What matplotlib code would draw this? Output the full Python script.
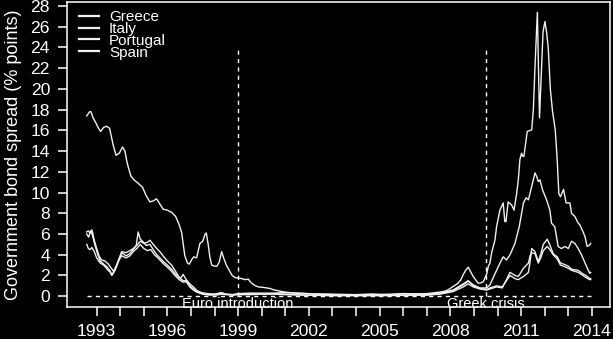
import matplotlib
matplotlib.use("Agg")
import matplotlib.pyplot as plt
from matplotlib.ticker import FixedLocator, FuncFormatter

plt.rcParams['font.family'] = ['Liberation Sans', 'DejaVu Sans']

# Ten-year government bond spreads versus Germany, % points
greece_t = [1992.58, 1992.70, 1992.76, 1992.85, 1992.95, 1993.08, 1993.17, 1993.30, 1993.42, 1993.55,
            1993.70, 1993.82, 1993.96, 1994.10, 1994.20, 1994.30, 1994.45, 1994.60, 1994.76, 1994.95,
            1995.10, 1995.26, 1995.40, 1995.54, 1995.68, 1995.82, 1996.00, 1996.18, 1996.35, 1996.50,
            1996.60, 1996.74, 1996.85, 1996.93, 1997.05, 1997.12, 1997.24, 1997.38, 1997.50, 1997.60,
            1997.65, 1997.73, 1997.80, 1997.88, 1998.00, 1998.10, 1998.20, 1998.30, 1998.40, 1998.50,
            1998.62, 1998.75, 1998.87, 1999.00, 1999.15, 1999.29, 1999.43, 1999.55, 1999.70, 1999.85,
            2000.07, 2000.35, 2000.50, 2000.92, 2001.30, 2001.62, 2002.05, 2002.50, 2003.00, 2003.50,
            2004.00, 2004.50, 2004.70, 2005.00, 2005.50, 2006.00, 2006.50, 2007.00, 2007.56, 2007.80,
            2008.00, 2008.12, 2008.30, 2008.45, 2008.55, 2008.65, 2008.76, 2008.85, 2008.97, 2009.10,
            2009.18, 2009.30, 2009.40, 2009.55, 2009.61, 2009.68, 2009.75, 2009.82, 2009.89, 2009.96,
            2010.10, 2010.17, 2010.24, 2010.31, 2010.36, 2010.45, 2010.60, 2010.70, 2010.81, 2010.88,
            2010.95, 2011.02, 2011.07, 2011.12, 2011.26, 2011.45, 2011.52, 2011.59, 2011.69, 2011.74,
            2011.78, 2011.85, 2011.93, 2012.01, 2012.08, 2012.15, 2012.24, 2012.33, 2012.45, 2012.53,
            2012.60, 2012.67, 2012.80, 2012.91, 2013.07, 2013.14, 2013.28, 2013.42, 2013.49, 2013.63,
            2013.71, 2013.80, 2013.91, 2013.95]
greece_v = [17.4, 17.8, 17.8, 17.2, 16.8, 16.2, 15.9, 16.3, 16.4, 16.2,
            14.6, 13.6, 13.8, 14.4, 14.0, 12.8, 11.6, 11.2, 10.9, 10.5,
            9.7, 9.1, 9.2, 9.4, 8.9, 8.4, 8.3, 8.1, 7.7, 6.9,
            6.2, 3.9, 3.2, 3.1, 3.6, 3.8, 3.7, 5.1, 5.3, 6.0,
            6.1, 5.0, 3.8, 3.0, 2.9, 2.9, 3.3, 4.3, 3.6, 3.0,
            2.5, 2.0, 1.8, 1.75, 1.7, 1.6, 1.65, 1.3, 1.05, 0.9,
            0.85, 0.75, 0.62, 0.42, 0.32, 0.28, 0.22, 0.18, 0.15, 0.12,
            0.15, 0.2, 0.22, 0.18, 0.15, 0.25, 0.22, 0.25, 0.4, 0.5,
            0.75, 0.95, 1.2, 1.6, 2.1, 2.5, 2.8, 2.4, 1.9, 1.5,
            1.25, 1.3, 1.4, 2.2, 2.9, 3.2, 4.2, 4.8, 5.4, 6.7,
            8.3, 8.65, 9.0, 7.2, 7.2, 9.1, 8.8, 8.3, 9.9, 11.2,
            13.2, 13.8, 13.5, 13.5, 15.9, 16.05, 18.0, 22.2, 27.4, 22.0,
            17.2, 21.0, 25.5, 26.5, 25.5, 24.0, 20.0, 17.9, 16.0, 13.2,
            9.9, 9.6, 10.3, 9.0, 9.0, 8.0, 7.7, 7.05, 6.9, 6.2,
            5.75, 4.8, 4.95, 5.1]

italy_t = [1992.58, 1992.66, 1992.74, 1992.82, 1992.92, 1993.05, 1993.15, 1993.30, 1993.45, 1993.58,
           1993.65, 1993.78, 1993.95, 1994.06, 1994.25, 1994.40, 1994.55, 1994.68, 1994.76, 1994.85,
           1994.95, 1995.10, 1995.26, 1995.40, 1995.55, 1995.68, 1995.85, 1996.00, 1996.18, 1996.32,
           1996.50, 1996.67, 1996.80, 1996.95, 1997.10, 1997.24, 1997.50, 1997.80, 1998.10, 1998.30,
           1998.50, 1998.80, 1999.00, 1999.50, 2000.00, 2000.50, 2001.00, 2001.50, 2002.00, 2003.00,
           2004.00, 2005.00, 2006.00, 2007.00, 2007.56, 2008.12, 2008.55, 2008.76, 2008.97, 2009.25,
           2009.54, 2009.68, 2009.96, 2010.20, 2010.38, 2010.53, 2010.74, 2010.88, 2011.10, 2011.31,
           2011.38, 2011.45, 2011.59, 2011.73, 2011.85, 2011.94, 2012.11, 2012.22, 2012.36, 2012.53,
           2012.67, 2012.80, 2013.00, 2013.14, 2013.28, 2013.42, 2013.56, 2013.75, 2013.91, 2013.95]
italy_v = [6.0, 5.7, 6.3, 5.9, 5.0, 4.0, 3.4, 3.1, 2.8, 2.4,
           2.05, 2.6, 3.6, 4.2, 3.9, 4.1, 4.5, 4.9, 6.2, 5.5,
           5.3, 4.9, 5.0, 4.5, 4.0, 3.7, 3.3, 3.0, 2.6, 2.2,
           1.8, 1.5, 1.5, 1.0, 0.7, 0.45, 0.2, 0.15, 0.2, 0.3,
           0.2, 0.15, 0.25, 0.3, 0.3, 0.3, 0.35, 0.3, 0.25, 0.2,
           0.15, 0.15, 0.25, 0.2, 0.3, 0.6, 1.2, 1.5, 1.0, 0.75,
           0.65, 0.8, 1.0, 0.9, 1.5, 2.0, 1.7, 1.6, 1.9, 2.3,
           3.3, 4.6, 4.3, 3.3, 4.2, 5.0, 5.5, 4.95, 4.1, 3.8,
           3.2, 3.1, 2.9, 2.6, 2.55, 2.5, 2.25, 2.0, 1.7, 1.7]

portugal_t = [1992.58, 1992.65, 1992.72, 1992.80, 1992.90, 1993.00, 1993.10, 1993.20, 1993.35, 1993.50,
              1993.62, 1993.72, 1993.85, 1994.00, 1994.06, 1994.25, 1994.41, 1994.55, 1994.70, 1994.85,
              1995.00, 1995.15, 1995.26, 1995.40, 1995.55, 1995.68, 1995.85, 1996.00, 1996.18, 1996.32,
              1996.45, 1996.55, 1996.67, 1996.80, 1996.95, 1997.10, 1997.25, 1997.45, 1997.70, 1998.00,
              1998.20, 1998.30, 1998.45, 1998.70, 1999.00, 1999.50, 2000.00, 2000.50, 2001.00, 2001.50,
              2002.00, 2003.00, 2004.00, 2005.00, 2006.00, 2007.00, 2007.56, 2008.12, 2008.55, 2008.76,
              2008.97, 2009.25, 2009.54, 2009.68, 2009.96, 2010.17, 2010.24, 2010.38, 2010.53, 2010.74,
              2010.92, 2011.10, 2011.21, 2011.31, 2011.45, 2011.59, 2011.66, 2011.73, 2011.80, 2011.91,
              2012.08, 2012.22, 2012.29, 2012.43, 2012.57, 2012.71, 2012.86, 2013.00, 2013.14, 2013.28,
              2013.42, 2013.56, 2013.77, 2013.91, 2013.95]
portugal_v = [6.2, 6.3, 6.1, 6.4, 5.4, 4.6, 3.9, 3.5, 3.4, 3.1,
              2.7, 2.4, 3.0, 3.9, 4.3, 4.2, 4.4, 4.6, 4.9, 5.3,
              5.1, 5.2, 5.4, 5.0, 4.6, 4.3, 3.8, 3.4, 3.0, 2.5,
              2.0, 1.7, 2.1, 1.6, 1.2, 0.9, 0.55, 0.35, 0.25, 0.2,
              0.3, 0.35, 0.2, 0.15, 0.2, 0.25, 0.2, 0.25, 0.2, 0.15,
              0.1, 0.08, 0.1, 0.08, 0.12, 0.15, 0.25, 0.55, 1.1, 1.45,
              1.1, 0.8, 0.8, 1.1, 2.5, 3.5, 3.8, 3.5, 4.0, 5.1,
              6.7, 9.0, 9.5, 9.3, 10.6, 11.9, 11.55, 11.06, 11.23, 10.26,
              9.3, 8.3, 7.05, 6.7, 4.8, 4.6, 4.8, 4.6, 5.3, 5.1,
              4.6, 4.0, 2.9, 2.2, 2.3]

spain_t = [1992.58, 1992.65, 1992.72, 1992.80, 1992.90, 1993.00, 1993.15, 1993.30, 1993.45, 1993.58,
           1993.64, 1993.78, 1993.95, 1994.06, 1994.25, 1994.41, 1994.55, 1994.70, 1994.85, 1995.00,
           1995.15, 1995.30, 1995.45, 1995.60, 1995.68, 1995.85, 1996.00, 1996.18, 1996.32, 1996.50,
           1996.67, 1996.80, 1996.95, 1997.10, 1997.24, 1997.50, 1997.80, 1998.10, 1998.30, 1998.50,
           1998.80, 1999.00, 1999.50, 2000.00, 2000.50, 2001.00, 2002.00, 2003.00, 2004.00, 2005.00,
           2006.00, 2007.00, 2007.56, 2008.12, 2008.55, 2008.76, 2008.97, 2009.25, 2009.54, 2009.68,
           2009.96, 2010.20, 2010.38, 2010.53, 2010.74, 2010.88, 2011.10, 2011.31, 2011.38, 2011.45,
           2011.59, 2011.73, 2011.85, 2011.94, 2012.11, 2012.22, 2012.36, 2012.53, 2012.67, 2012.80,
           2013.00, 2013.14, 2013.28, 2013.42, 2013.56, 2013.75, 2013.91, 2013.95]
spain_v = [5.0, 4.6, 4.5, 4.7, 4.3, 3.7, 3.2, 3.0, 2.6, 2.3,
           2.0, 2.5, 3.5, 3.9, 3.7, 3.9, 4.3, 4.6, 5.0, 4.6,
           4.4, 4.5, 4.0, 3.7, 3.5, 3.1, 2.8, 2.4, 2.0, 1.6,
           1.35, 1.4, 0.9, 0.6, 0.4, 0.2, 0.12, 0.12, 0.2, 0.15,
           0.1, 0.15, 0.15, 0.2, 0.2, 0.15, 0.1, 0.05, 0.05, 0.05,
           0.08, 0.1, 0.2, 0.45, 0.9, 1.2, 0.9, 0.7, 0.6, 0.7,
           0.9, 0.8, 1.6, 2.3, 2.0, 1.9, 2.7, 3.2, 3.9, 4.2,
           4.1, 3.2, 3.8, 4.4, 4.8, 4.5, 4.0, 3.6, 3.0, 2.9,
           2.7, 2.5, 2.4, 2.3, 2.1, 1.8, 1.6, 1.6]

countries = ["Greece", "Italy", "Portugal", "Spain"]
events = ["Euro introduction", "Greek crisis"]
event_years = [1999.0, 2009.5]

year_ticks = list(range(1993, 2015))
labelled_years = list(range(1993, 2015, 3))
y_ticks = list(range(0, 29, 2))

FG = "white"
LINE = "#f0f0f0"

fig = plt.figure(figsize=(6.13, 3.39), dpi=100, facecolor="black")
ax = fig.add_axes([0.1088, 0.0944, 0.8863, 0.8997], facecolor="black")

series = [(greece_t, greece_v), (italy_t, italy_v), (portugal_t, portugal_v), (spain_t, spain_v)]
for name, (t, v) in zip(countries, series):
    ax.plot(t, v, color=LINE, lw=1.0, label=name, solid_joinstyle="round")

t_first = min(min(t) for t, _ in series)
t_last = max(max(t) for t, _ in series)

# reference line at zero and event markers
ax.hlines(0, t_first, t_last, colors=FG, lw=1.0, linestyles=(0, (3, 3)))
ax.vlines(event_years, 0, 24, colors=FG, lw=1.0, linestyles=(0, (3, 3)))
for label, yr in zip(events, event_years):
    ax.text(yr, -0.05, label, ha="center", va="top", color=FG, fontsize=10.5)

ax.set_xlim(1991.73, 2014.77)
ax.set_ylim(-1.04, 28.39)

ax.xaxis.set_major_locator(FixedLocator(year_ticks))
ax.xaxis.set_major_formatter(
    FuncFormatter(lambda x, p: str(int(round(x))) if int(round(x)) in labelled_years else ""))
ax.yaxis.set_major_locator(FixedLocator(y_ticks))

ax.tick_params(axis="both", colors=FG, labelcolor=FG, width=1.1, length=6.5, labelsize=12.6)
ax.tick_params(axis="x", pad=5.5)
ax.tick_params(axis="y", pad=5.5)
for s in ax.spines.values():
    s.set_color(FG)
    s.set_linewidth(1.1)

ax.set_ylabel("Government bond spread (% points)", color=FG, fontsize=13, labelpad=6)

leg = ax.legend(loc="upper left", bbox_to_anchor=(0.012, 0.99), frameon=False, fontsize=11,
                handlelength=1.35, handletextpad=0.65, labelspacing=-0.15, borderaxespad=0,
                borderpad=0.35, labelcolor=FG)
for h in leg.get_lines():
    h.set_linewidth(1.6)

fig.savefig("out.png", dpi=100, facecolor="black")
